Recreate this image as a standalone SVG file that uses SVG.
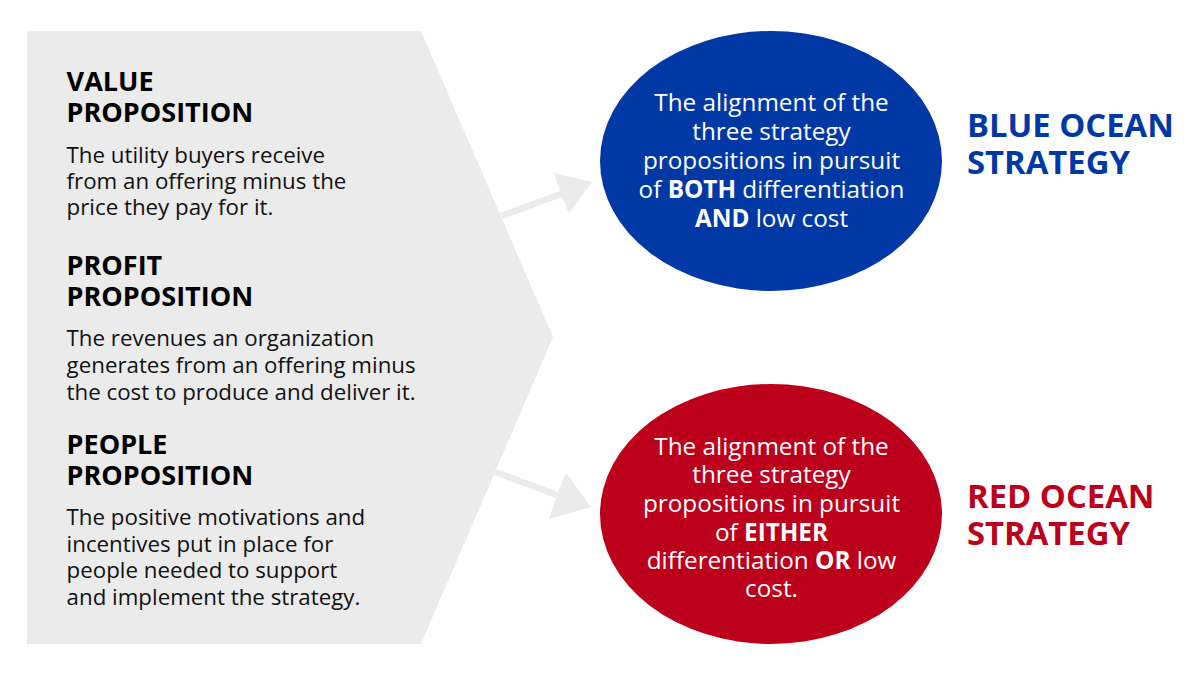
<svg xmlns="http://www.w3.org/2000/svg" width="1200" height="675" viewBox="0 0 1200 675">
<style>
text{font-family:"Open Sans","Noto Sans",sans-serif}
.h{font-size:27px;font-weight:700;fill:#000}
.b{font-size:22.3px;fill:#111}
.c{font-size:24.3px;fill:#fff;text-anchor:middle}
.s{font-size:32.8px;font-weight:700}
.k{font-weight:700}
.a{fill:#ebebeb}
</style>
<rect width="1200" height="675" fill="#fff"/>
<g id="chevron">
<polygon class="a" points="27,31 421,31 553,337 421,644 27,644"/>
<text class="h" x="66.6" y="91">VALUE</text><text class="h" x="66.6" y="122">PROPOSITION</text>
<text class="b" x="66.6" y="163">The utility buyers receive</text><text class="b" x="66.6" y="189">from an offering minus the</text><text class="b" x="66.6" y="215">price they pay for it.</text>
<text class="h" x="66.6" y="275">PROFIT</text><text class="h" x="66.6" y="306">PROPOSITION</text>
<text class="b" x="66.6" y="346">The revenues an organization</text><text class="b" x="66.6" y="373">generates from an offering minus</text><text class="b" x="66.6" y="400">the cost to produce and deliver it.</text>
<text class="h" x="66.6" y="454">PEOPLE</text><text class="h" x="66.6" y="485">PROPOSITION</text>
<text class="b" x="66.6" y="525">The positive motivations and</text><text class="b" x="66.6" y="552">incentives put in place for</text><text class="b" x="66.6" y="578">people needed to support</text><text class="b" x="66.6" y="605">and implement the strategy.</text>
</g>
<g id="connectors">
<polygon class="a" points="500,213 560,191 554,173 592,182 569,213 562,197 503,219"/>
<polygon class="a" points="497,469 558,492 566,473 591,507 549,519 556,498 494,475"/>
</g>
<g id="blue-ocean">
<ellipse cx="771" cy="161" rx="171" ry="130" fill="#0039a6"/>
<text class="c" x="771.5" y="111">The alignment of the</text><text class="c" x="771.5" y="140">three strategy</text><text class="c" x="771.5" y="169">propositions in pursuit</text><text class="c" x="771.5" y="198">of <tspan class="k">BOTH</tspan> differentiation</text><text class="c" x="771.5" y="227"><tspan class="k">AND</tspan> low cost</text>
<text class="s" x="967" y="137" fill="#0039a6">BLUE OCEAN</text><text class="s" x="967" y="174" fill="#0039a6">STRATEGY</text>
</g>
<g id="red-ocean">
<ellipse cx="771" cy="514" rx="171" ry="130" fill="#bc001c"/>
<text class="c" x="771.5" y="455">The alignment of the</text><text class="c" x="771.5" y="483">three strategy</text><text class="c" x="771.5" y="512">propositions in pursuit</text><text class="c" x="771.5" y="541">of <tspan class="k">EITHER</tspan></text><text class="c" x="771.5" y="569">differentiation <tspan class="k">OR</tspan> low</text><text class="c" x="771.5" y="597">cost.</text>
<text class="s" x="967" y="508" fill="#bc001c">RED OCEAN</text><text class="s" x="967" y="545" fill="#bc001c">STRATEGY</text>
</g>
</svg>
